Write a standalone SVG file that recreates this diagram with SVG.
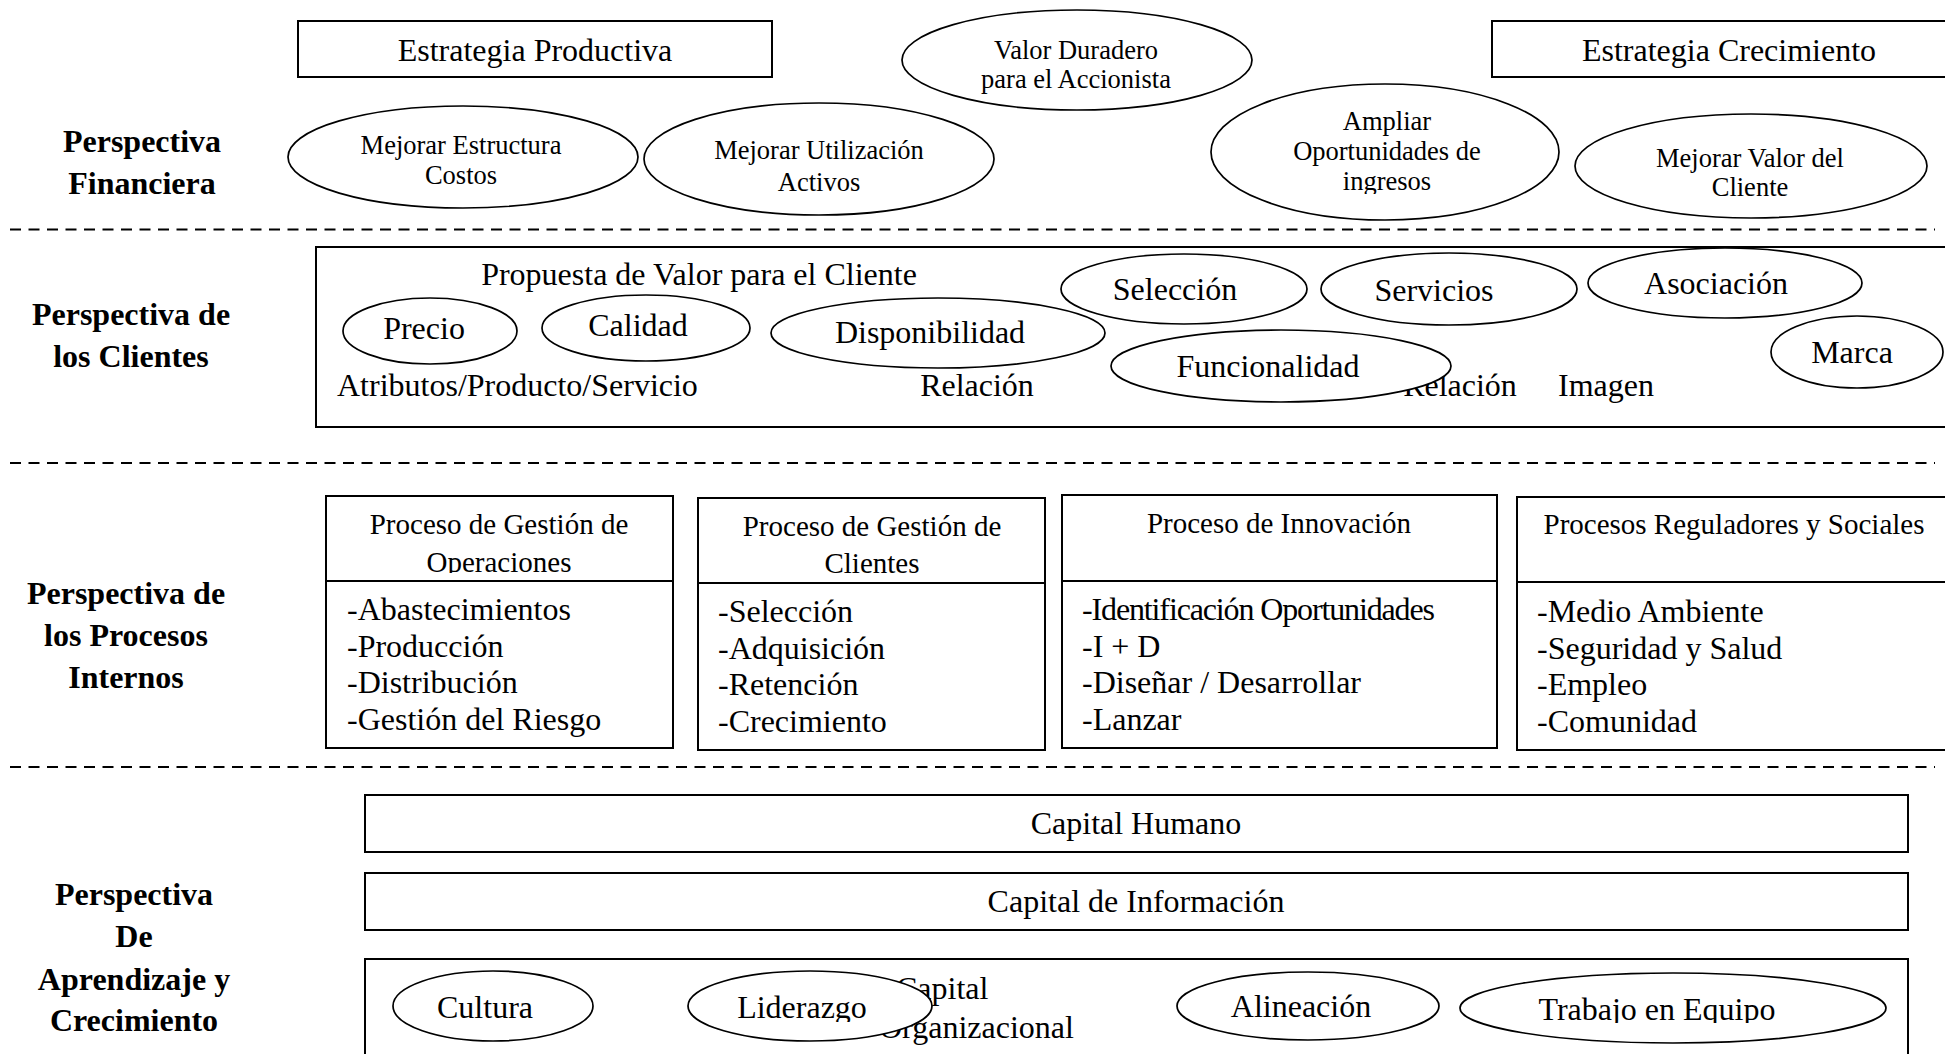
<svg xmlns="http://www.w3.org/2000/svg" width="1945" height="1054" viewBox="0 0 1945 1054">
<style>
.t{font-family:"Liberation Serif","Times New Roman",serif;font-size:32px;fill:#000}
.s{font-size:26.5px}
.h{font-size:29px}
.b{font-weight:bold}
.c{text-anchor:middle}
.box{fill:#fff;stroke:#000;stroke-width:2}
.ell{fill:#fff;stroke:#000;stroke-width:1.7}
.dash{stroke:#000;stroke-width:1.8;stroke-dasharray:11 7.5;fill:none}
</style>
<defs>
<clipPath id="clipOp"><rect x="326" y="496" width="347" height="77"/></clipPath>
<clipPath id="clipIng"><rect x="1211" y="84" width="348" height="110"/></clipPath>
<clipPath id="clipLid"><rect x="680" y="965" width="260" height="57"/></clipPath>
<clipPath id="clipTra"><rect x="1455" y="965" width="440" height="58"/></clipPath>
</defs>
<rect width="1945" height="1054" fill="#fff"/>

<g id="separators">
<line class="dash" x1="10" y1="229.5" x2="1935" y2="229.5"/>
<line class="dash" x1="10" y1="463" x2="1935" y2="463"/>
<line class="dash" x1="10" y1="767" x2="1935" y2="767"/>
</g>

<!-- Financial perspective -->
<g id="label-financiera">
<text class="t b c" x="142" y="152">Perspectiva</text>
<text class="t b c" x="142" y="194">Financiera</text>
</g>
<g id="estrategia-productiva">
<rect class="box" x="298" y="21" width="474" height="56"/>
<text class="t c" x="535" y="61">Estrategia Productiva</text>
</g>
<g id="valor-duradero">
<ellipse class="ell" cx="1077" cy="60" rx="175" ry="50"/>
<text class="t s c" x="1076" y="59">Valor Duradero</text>
<text class="t s c" x="1076" y="88">para el Accionista</text>
</g>
<g id="estrategia-crecimiento">
<rect class="box" x="1492" y="21" width="470" height="56"/>
<text class="t c" x="1729" y="61">Estrategia Crecimiento</text>
</g>
<g id="mejorar-estructura">
<ellipse class="ell" cx="463" cy="157" rx="175" ry="51"/>
<text class="t s c" x="461" y="154">Mejorar Estructura</text>
<text class="t s c" x="461" y="184">Costos</text>
</g>
<g id="mejorar-utilizacion">
<ellipse class="ell" cx="819" cy="159" rx="175" ry="56"/>
<text class="t s c" x="819" y="159">Mejorar Utilización</text>
<text class="t s c" x="819" y="191">Activos</text>
</g>
<g id="ampliar-oportunidades">
<ellipse class="ell" cx="1385" cy="152" rx="174" ry="68"/>
<g clip-path="url(#clipIng)">
<text class="t s c" x="1387" y="130">Ampliar</text>
<text class="t s c" x="1387" y="160">Oportunidades de</text>
<text class="t s c" x="1387" y="190">ingresos</text>
</g>
</g>
<g id="mejorar-valor-cliente">
<ellipse class="ell" cx="1751" cy="166" rx="176" ry="52"/>
<text class="t s c" x="1750" y="167">Mejorar Valor del</text>
<text class="t s c" x="1750" y="196">Cliente</text>
</g>

<!-- Customer perspective -->
<g id="label-clientes">
<text class="t b c" x="131" y="325">Perspectiva de</text>
<text class="t b c" x="131" y="367">los Clientes</text>
</g>
<g id="propuesta-valor">
<rect class="box" x="316" y="247" width="1700" height="180"/>
<text class="t c" x="699" y="285">Propuesta de Valor para el Cliente</text>
<text class="t" x="337" y="396">Atributos/Producto/Servicio</text>
<text class="t c" x="977" y="396">Relación</text>
<text class="t c" x="1460" y="396">Relación</text>
<text class="t c" x="1606" y="396">Imagen</text>
</g>
<g id="precio">
<ellipse class="ell" cx="430" cy="331" rx="87" ry="33"/>
<text class="t c" x="424" y="339">Precio</text>
</g>
<g id="calidad">
<ellipse class="ell" cx="646" cy="328" rx="104" ry="33"/>
<text class="t c" x="638" y="336">Calidad</text>
</g>
<g id="disponibilidad">
<ellipse class="ell" cx="938" cy="333" rx="167" ry="35"/>
<text class="t c" x="930" y="343">Disponibilidad</text>
</g>
<g id="seleccion">
<ellipse class="ell" cx="1184" cy="289" rx="123" ry="35"/>
<text class="t c" x="1175" y="300">Selección</text>
</g>
<g id="servicios">
<ellipse class="ell" cx="1449" cy="289" rx="128" ry="36"/>
<text class="t c" x="1434" y="301">Servicios</text>
</g>
<g id="asociacion">
<ellipse class="ell" cx="1725" cy="283" rx="137" ry="35"/>
<text class="t c" x="1716" y="294">Asociación</text>
</g>
<g id="marca">
<ellipse class="ell" cx="1857" cy="352" rx="86" ry="36"/>
<text class="t c" x="1852" y="363">Marca</text>
</g>
<g id="funcionalidad">
<ellipse class="ell" cx="1281" cy="366" rx="170" ry="36"/>
<text class="t c" x="1268" y="377">Funcionalidad</text>
</g>

<!-- Internal processes -->
<g id="label-procesos">
<text class="t b c" x="126" y="604">Perspectiva de</text>
<text class="t b c" x="126" y="646">los Procesos</text>
<text class="t b c" x="126" y="688">Internos</text>
</g>
<g id="proceso-operaciones">
<rect class="box" x="326" y="496" width="347" height="252"/>
<line class="box" x1="326" y1="581" x2="673" y2="581"/>
<g clip-path="url(#clipOp)">
<text class="t h c" x="499" y="534">Proceso de Gestión de</text>
<text class="t h c" x="499" y="572">Operaciones</text>
</g>
<text class="t" x="347" y="620">-Abastecimientos</text>
<text class="t" x="347" y="657">-Producción</text>
<text class="t" x="347" y="693">-Distribución</text>
<text class="t" x="347" y="730">-Gestión del Riesgo</text>
</g>
<g id="proceso-clientes">
<rect class="box" x="698" y="498" width="347" height="252"/>
<line class="box" x1="698" y1="583" x2="1045" y2="583"/>
<text class="t h c" x="872" y="536">Proceso de Gestión de</text>
<text class="t h c" x="872" y="573">Clientes</text>
<text class="t" x="718" y="622">-Selección</text>
<text class="t" x="718" y="659">-Adquisición</text>
<text class="t" x="718" y="695">-Retención</text>
<text class="t" x="718" y="732">-Crecimiento</text>
</g>
<g id="proceso-innovacion">
<rect class="box" x="1062" y="495" width="435" height="253"/>
<line class="box" x1="1062" y1="581" x2="1497" y2="581"/>
<text class="t h c" x="1279" y="533">Proceso de Innovación</text>
<text class="t" x="1082" y="620" textLength="353">-Identificación Oportunidades</text>
<text class="t" x="1082" y="657">-I + D</text>
<text class="t" x="1082" y="693">-Diseñar / Desarrollar</text>
<text class="t" x="1082" y="730">-Lanzar</text>
</g>
<g id="procesos-reguladores">
<rect class="box" x="1517" y="497" width="440" height="253"/>
<line class="box" x1="1517" y1="582" x2="1957" y2="582"/>
<text class="t h c" x="1734" y="534">Procesos Reguladores y Sociales</text>
<text class="t" x="1537" y="622">-Medio Ambiente</text>
<text class="t" x="1537" y="659">-Seguridad y Salud</text>
<text class="t" x="1537" y="695">-Empleo</text>
<text class="t" x="1537" y="732">-Comunidad</text>
</g>

<!-- Learning and growth -->
<g id="label-aprendizaje">
<text class="t b c" x="134" y="905">Perspectiva</text>
<text class="t b c" x="134" y="947">De</text>
<text class="t b c" x="134" y="990">Aprendizaje y</text>
<text class="t b c" x="134" y="1031">Crecimiento</text>
</g>
<g id="capital-humano">
<rect class="box" x="365" y="795" width="1543" height="57"/>
<text class="t c" x="1136" y="834">Capital Humano</text>
</g>
<g id="capital-informacion">
<rect class="box" x="365" y="873" width="1543" height="57"/>
<text class="t c" x="1136" y="912">Capital de Información</text>
</g>
<g id="capital-organizacional">
<rect class="box" x="365" y="959" width="1543" height="110"/>
<text class="t" x="896" y="999">Capital</text>
<text class="t" x="879" y="1038">Organizacional</text>
</g>
<g id="cultura">
<ellipse class="ell" cx="493" cy="1006" rx="100" ry="35"/>
<text class="t c" x="485" y="1018">Cultura</text>
</g>
<g id="liderazgo">
<ellipse class="ell" cx="810" cy="1006" rx="122" ry="35"/>
<g clip-path="url(#clipLid)"><text class="t c" x="802" y="1018">Liderazgo</text></g>
</g>
<g id="alineacion">
<ellipse class="ell" cx="1308" cy="1006" rx="131" ry="34"/>
<text class="t c" x="1301" y="1017">Alineación</text>
</g>
<g id="trabajo-equipo">
<ellipse class="ell" cx="1673" cy="1008" rx="213" ry="35"/>
<g clip-path="url(#clipTra)"><text class="t c" x="1657" y="1020">Trabajo en Equipo</text></g>
</g>
</svg>
